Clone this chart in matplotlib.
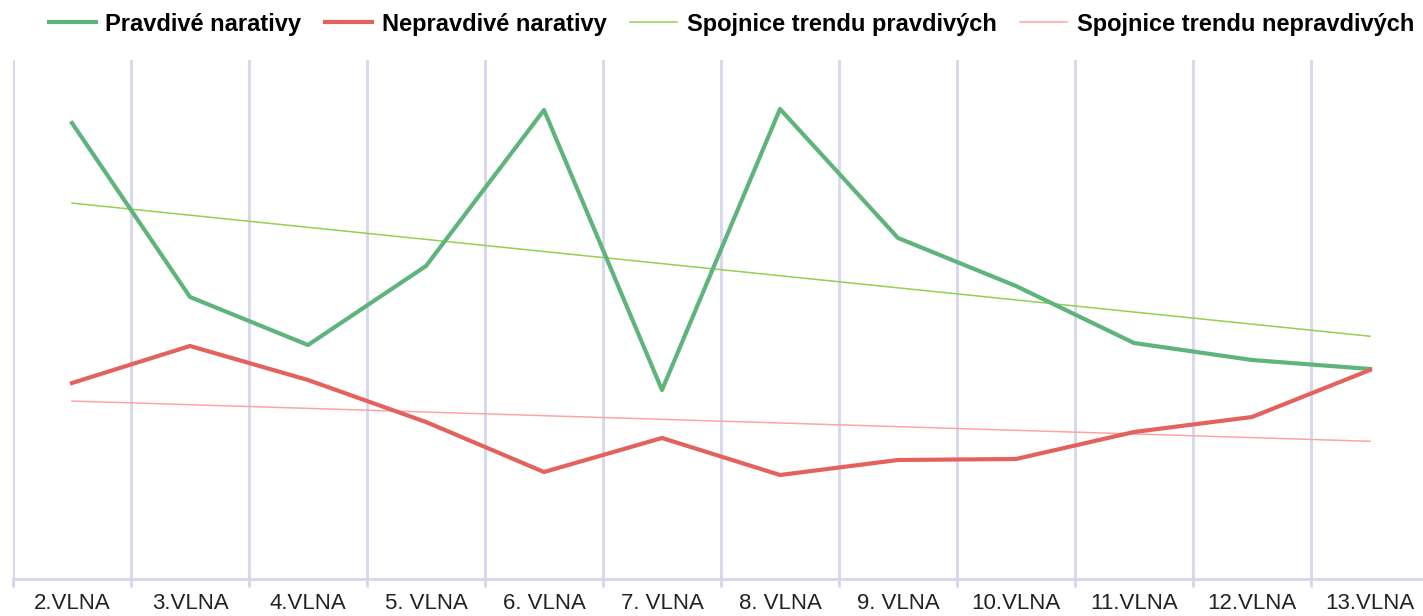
import numpy as np
import matplotlib.pyplot as plt

# ---------------------------------------------------------------------------
# data (arbitrary units)
# ---------------------------------------------------------------------------
waves = ["2.VLNA", "3.VLNA", "4.VLNA", "5. VLNA", "6. VLNA", "7. VLNA",
         "8. VLNA", "9. VLNA", "10.VLNA", "11.VLNA", "12.VLNA", "13.VLNA"]
true_narr = [45.6, 28.2, 23.4, 31.3, 46.9, 18.9, 47.0, 34.1, 29.3, 23.6, 21.9, 21.0]
false_narr = [19.6, 23.3, 19.9, 15.7, 10.7, 14.1, 10.4, 11.9, 12.0, 14.7, 16.2, 20.9]

GREEN = "#5fb47c"
RED = "#e4625d"
GREEN_TREND = "#92d050"
RED_TREND = "#ffa3a3"
GRID = "#d6d6ee"

plt.rcParams["font.family"] = ["Liberation Sans", "DejaVu Sans"]

fig = plt.figure(figsize=(14.23, 6.16), dpi=100)
ax = fig.add_axes([13 / 1423, 37 / 616, 1416 / 1423, 519 / 616])

x = np.arange(len(waves))
ax.plot(x, true_narr, color=GREEN, linewidth=3, label="Pravdivé narativy", zorder=4)
ax.plot(x, false_narr, color=RED, linewidth=3, label="Nepravdivé narativy", zorder=4)

# linear trend lines (least squares, like a spreadsheet trendline)
k1, q1 = np.polyfit(x, true_narr, 1)
k2, q2 = np.polyfit(x, false_narr, 1)
ax.plot(x, k1 * x + q1, color=GREEN_TREND, linewidth=1.1,
        label="Spojnice trendu pravdivých", zorder=3)
ax.plot(x, k2 * x + q2, color=RED_TREND, linewidth=1.1,
        label="Spojnice trendu nepravdivých", zorder=3)

ax.set_xlim(-0.5, len(waves) - 0.5)
ax.set_ylim(0, 51.9)

# vertical gridlines at category boundaries
bounds = np.arange(len(waves) + 1) - 0.5
for b in bounds:
    ax.axvline(b, color=GRID, linewidth=2, zorder=1)

ax.set_yticks([])
ax.set_xticks(bounds, minor=True)
ax.set_xticks(x)
ax.set_xticklabels(waves, fontsize=16, color="#222222")
ax.tick_params(axis="x", which="major", length=0, pad=10)
ax.tick_params(axis="x", which="minor", length=6, width=2, color=GRID)
for side in ["top", "right", "left"]:
    ax.spines[side].set_visible(False)
ax.spines["bottom"].set_color(GRID)
ax.spines["bottom"].set_linewidth(2)

fig.legend(loc="center", bbox_to_anchor=(0.514, 1 - 24 / 616), ncol=4, frameon=False,
           prop={"weight": "bold", "size": 17}, handlelength=2.0,
           columnspacing=1.0, handletextpad=0.4, borderaxespad=0, borderpad=0)

fig.savefig("out.png", dpi=100)
